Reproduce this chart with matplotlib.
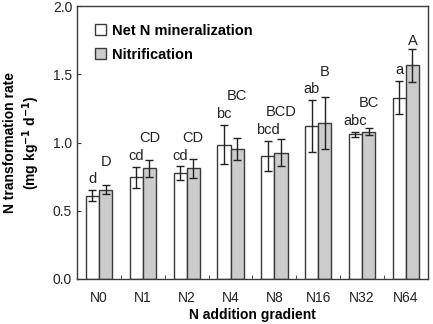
import matplotlib
matplotlib.use("Agg")
import matplotlib.pyplot as plt
import numpy as np

plt.rcParams["font.family"] = ["Liberation Sans", "DejaVu Sans"]

# Data
groups = ["N0", "N1", "N2", "N4", "N8", "N16", "N32", "N64"]
net_min = [0.61, 0.745, 0.775, 0.985, 0.905, 1.12, 1.06, 1.33]
net_min_err = [0.04, 0.075, 0.05, 0.145, 0.11, 0.19, 0.02, 0.12]
nitrif = [0.655, 0.81, 0.81, 0.95, 0.925, 1.145, 1.08, 1.565]
nitrif_err = [0.035, 0.06, 0.07, 0.08, 0.10, 0.19, 0.025, 0.12]
net_letters = ["d", "cd", "cd", "bc", "bcd", "ab", "abc", "a"]
nit_letters = ["D", "CD", "CD", "BC", "BCD", "B", "BC", "A"]

edge = "#3a3a3a"
fig = plt.figure(figsize=(4.33, 3.24), dpi=100)
ax = fig.add_axes([0.178, 0.139, 0.81, 0.842])

x = np.arange(len(groups))
w = 0.3
err_kw = dict(ecolor="#222222", elinewidth=1, capsize=3, capthick=1)
ax.bar(x - w / 2, net_min, w, yerr=net_min_err, color="white", edgecolor=edge,
       linewidth=1, error_kw=err_kw, label="Net N mineralization")
ax.bar(x + w / 2, nitrif, w, yerr=nitrif_err, color="#cccccc", edgecolor=edge,
       linewidth=1, error_kw=err_kw, label="Nitrification")

# significance letters above the error bars
for i in range(len(groups)):
    low_y = net_min[i] + net_min_err[i] + 0.08
    up_y = max(nitrif[i] + nitrif_err[i] + 0.06, low_y + 0.13)
    ax.text(x[i] - w / 2, low_y, net_letters[i], ha="center", va="center",
            fontsize=10.5, color="#222222")
    ax.text(x[i] + w / 2, up_y, nit_letters[i], ha="center", va="center",
            fontsize=10.5, color="#222222")

ax.set_xlim(-0.5, len(groups) - 0.5)
ax.set_ylim(0, 2.0)
ax.set_yticks([0, 0.5, 1.0, 1.5, 2.0])
ax.set_yticklabels(["0.0", "0.5", "1.0", "1.5", "2.0"])
ax.set_xticks(x)
ax.set_xticklabels(groups)
ax.set_xticks(np.arange(-0.5, len(groups)), minor=True)
ax.tick_params(axis="x", which="major", length=0, pad=9, labelsize=10,
               labelcolor="#222222")
ax.tick_params(axis="x", which="minor", direction="in", length=3, color=edge)
ax.tick_params(axis="y", direction="in", length=3, labelsize=10,
               labelcolor="#222222", color=edge)
for s in ax.spines.values():
    s.set_color(edge)
    s.set_linewidth(1)

ax.set_xlabel("N addition gradient", fontsize=10, fontweight="bold", labelpad=2)
ax.set_ylabel("N transformation rate\n(mg kg$^{\\mathbf{-1}}$ d$^{\\mathbf{-1}}$)",
              fontsize=10, fontweight="bold", labelpad=8)

ax.legend(loc="upper left", frameon=False, prop={"weight": "bold", "size": 10.5},
          handlelength=0.8, handleheight=0.8, handletextpad=0.4,
          labelspacing=0.7, borderaxespad=0.8)

fig.savefig("out.png", dpi=100)
